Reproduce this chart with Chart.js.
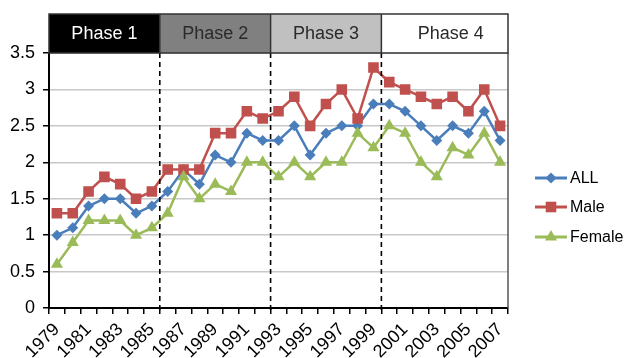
<!DOCTYPE html>
<html><head><meta charset="utf-8">
<script src="https://cdn.jsdelivr.net/npm/chart.js@4/dist/chart.umd.min.js"></script>
<style>html,body{margin:0;padding:0;background:#fff}#wrap{width:624px;height:358px;position:relative}</style>
</head><body><div id="wrap"><canvas id="c" width="624" height="358"></canvas></div>
<script>
const years = ['1979','1980','1981','1982','1983','1984','1985','1986','1987','1988','1989','1990','1991','1992','1993','1994','1995','1996','1997','1998','1999','2000','2001','2002','2003','2004','2005','2006','2007'];
const allValues    = [1.0,1.1,1.4,1.5,1.5,1.3,1.4,1.6,1.9,1.7,2.1,2.0,2.4,2.3,2.3,2.5,2.1,2.4,2.5,2.5,2.8,2.8,2.7,2.5,2.3,2.5,2.4,2.7,2.3];
const maleValues   = [1.3,1.3,1.6,1.8,1.7,1.5,1.6,1.9,1.9,1.9,2.4,2.4,2.7,2.6,2.7,2.9,2.5,2.8,3.0,2.6,3.3,3.1,3.0,2.9,2.8,2.9,2.7,3.0,2.5];
const femaleValues = [0.6,0.9,1.2,1.2,1.2,1.0,1.1,1.3,1.8,1.5,1.7,1.6,2.0,2.0,1.8,2.0,1.8,2.0,2.0,2.4,2.2,2.5,2.4,2.0,1.8,2.2,2.1,2.4,2.0];
const seriesNames = ['ALL','Male','Female'];
const phaseLabels = ['Phase 1','Phase 2','Phase 3','Phase 4'];
const phaseStartYears = ['1979','1986','1993','2000'];
const yMin = 0, yMax = 3.5, yStep = 0.5;

const FONT = '"Liberation Sans", Arial, Helvetica, sans-serif';
const colors = ['#4a7ebb','#c0504d','#9bbb59'];
const styles = ['rectRot','rect','triangle'];
const radii = [5.5,7.5,7];

function drawMarker(ctx, style, x, y, r, color){
  ctx.save();
  ctx.fillStyle = color;
  ctx.beginPath();
  if (style === 'rectRot'){
    ctx.moveTo(x, y - r); ctx.lineTo(x + r, y); ctx.lineTo(x, y + r); ctx.lineTo(x - r, y);
  } else if (style === 'rect'){
    const s = r * Math.SQRT1_2;
    ctx.rect(x - s, y - s, 2*s, 2*s);
  } else {
    ctx.moveTo(x, y - r);
    ctx.lineTo(x + r*Math.cos(Math.PI/6), y + r*0.5);
    ctx.lineTo(x - r*Math.cos(Math.PI/6), y + r*0.5);
  }
  ctx.closePath();
  ctx.fill();
  ctx.restore();
}

const overlay = {
  id: 'overlay',
  afterDatasetsDraw(chart){
    const ctx = chart.ctx, xs = chart.scales.x, ca = chart.chartArea;
    const idx = phaseStartYears.map(y => years.indexOf(y));
    const bounds = idx.map(i => i === 0 ? ca.left : (xs.getPixelForValue(i-1) + xs.getPixelForValue(i)) / 2);
    bounds.push(ca.right);
    ctx.save();
    ctx.strokeStyle = '#000'; ctx.lineWidth = 1.6; ctx.setLineDash([5,4]);
    for (let k = 1; k < bounds.length - 1; k++){
      ctx.beginPath(); ctx.moveTo(bounds[k], ca.top); ctx.lineTo(bounds[k], ca.bottom + 6); ctx.stroke();
    }
    ctx.restore();
    ctx.save();
    ctx.strokeStyle = '#555'; ctx.lineWidth = 1.5;
    ctx.beginPath(); ctx.moveTo(ca.right, ca.top); ctx.lineTo(ca.right, ca.bottom); ctx.stroke();
    ctx.restore();
    const hTop = 14, hBot = ca.top;
    const fills = ['#000000','#808080','#c0c0c0','#ffffff'];
    const tcol = ['#ffffff','#2a2a2a','#2a2a2a','#2a2a2a'];
    ctx.save();
    for (let k = 0; k < phaseLabels.length; k++){
      const x0 = bounds[k], x1 = bounds[k+1];
      ctx.fillStyle = fills[k];
      ctx.fillRect(x0, hTop, x1 - x0, hBot - hTop);
      ctx.fillStyle = tcol[k];
      ctx.font = '18px ' + FONT;
      ctx.textAlign = 'center'; ctx.textBaseline = 'middle';
      ctx.fillText(phaseLabels[k], (x0 + x1) / 2 + (k === 3 ? 6 : 0), (hTop + hBot) / 2 + 1);
    }
    ctx.strokeStyle = '#333'; ctx.lineWidth = 1.5;
    ctx.strokeRect(ca.left, hTop, ca.right - ca.left, hBot - hTop);
    for (let k = 1; k < bounds.length - 1; k++){
      ctx.beginPath(); ctx.moveTo(bounds[k], hTop); ctx.lineTo(bounds[k], hBot); ctx.stroke();
    }
    ctx.restore();
    ctx.save();
    const ly = [178, 207, 237];
    for (let k = 0; k < 3; k++){
      ctx.strokeStyle = colors[k]; ctx.lineWidth = 3;
      ctx.beginPath(); ctx.moveTo(535, ly[k]); ctx.lineTo(567, ly[k]); ctx.stroke();
      drawMarker(ctx, styles[k], 551, ly[k], radii[k], colors[k]);
      ctx.fillStyle = '#000'; ctx.font = '16px ' + FONT;
      ctx.textAlign = 'left'; ctx.textBaseline = 'middle';
      ctx.fillText(seriesNames[k], 570, ly[k] + 1);
    }
    ctx.restore();
  }
};

const mk = (k, data, order) => ({
  label: seriesNames[k], data, order,
  borderColor: colors[k], backgroundColor: colors[k],
  borderWidth: 2.5, tension: 0,
  pointStyle: styles[k], pointRadius: radii[k], pointHoverRadius: radii[k],
  pointBorderWidth: 0, pointBackgroundColor: colors[k]
});

new Chart(document.getElementById('c'), {
  type: 'line',
  data: { labels: years, datasets: [mk(0, allValues, 3), mk(1, maleValues, 2), mk(2, femaleValues, 1)] },
  options: {
    responsive: false, animation: false, devicePixelRatio: 1,
    layout: { padding: { top: 53, right: 116, left: 0, bottom: 0 } },
    plugins: { legend: { display: false }, tooltip: { enabled: false } },
    scales: {
      x: {
        offset: true,
        grid: { offset: true, drawOnChartArea: false, drawTicks: true, tickLength: 6, color: '#000', lineWidth: 1.5 },
        border: { color: '#000', width: 2 },
        ticks: {
          autoSkip: false, maxRotation: 45, minRotation: 45, padding: 5,
          color: '#000', font: { size: 18, family: FONT },
          callback: (v, i) => (i % 2 === 0 ? years[i] : '')
        },
        afterFit(s){ s.height = 50; }
      },
      y: {
        min: yMin, max: yMax,
        grid: { color: '#c8c8c8', lineWidth: 1.5, drawTicks: true, tickLength: 6, tickColor: '#000' },
        border: { color: '#000', width: 2 },
        ticks: { stepSize: yStep, padding: 8, color: '#000', font: { size: 18, family: FONT },
          callback: v => String(Math.round(v * 10) / 10) },
        afterFit(s){ s.width = 49; }
      }
    }
  },
  plugins: [overlay]
});
</script>
</body></html>
